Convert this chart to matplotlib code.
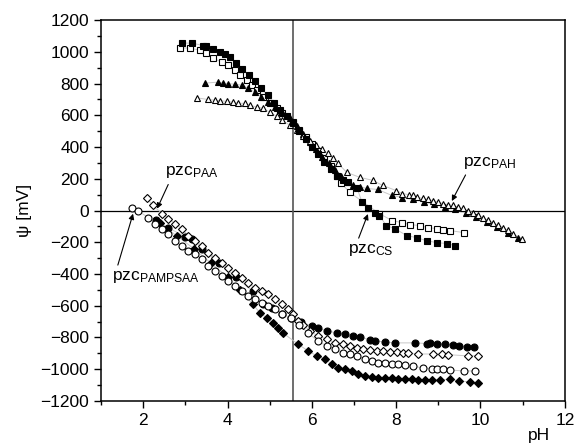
import matplotlib
matplotlib.use("Agg")
import matplotlib.pyplot as plt
from matplotlib.ticker import MultipleLocator

plt.rcParams['font.family'] = ['Liberation Sans', 'DejaVu Sans']
plt.rcParams['mathtext.fontset'] = 'custom'
plt.rcParams['mathtext.rm'] = 'Liberation Sans'
plt.rcParams['mathtext.it'] = 'Liberation Sans'

# zeta potential (mV) vs pH, one pair of arrays per sample
sq_f_ph = [2.92, 3.16, 3.42, 3.5, 3.65, 3.82, 3.95, 4.06, 4.2, 4.35, 4.5, 4.65, 4.8, 4.95, 5.1,
           5.25, 5.4, 5.55, 5.7, 5.85, 6.0, 6.15, 6.3, 6.45, 6.6, 6.75, 6.85, 7.07, 7.19, 7.33,
           7.5, 7.6, 7.77, 7.97, 8.25, 8.49, 8.72, 8.96, 9.2, 9.39]
sq_f_mv = [1055, 1055, 1040, 1036, 1015, 1000, 985, 965, 930, 895, 855, 815, 770, 725, 680,
           635, 595, 550, 500, 450, 400, 355, 305, 260, 215, 190, 177, 145, 51, 13,
           -13, -32, -95, -114, -158, -171, -190, -202, -208, -221]

sq_o_ph = [2.87, 3.1, 3.35, 3.5, 3.65, 3.87, 4.0, 4.17, 4.3, 4.46, 4.58, 4.7, 4.84, 5.0, 5.17,
           5.3, 5.55, 5.7, 5.85, 6.0, 6.15, 6.3, 6.45, 6.6, 6.7, 6.9, 7.6, 7.9, 8.13, 8.32,
           8.56, 8.75, 8.96, 9.1, 9.27, 9.6]
sq_o_mv = [1024, 1024, 1010, 990, 960, 935, 916, 885, 853, 822, 790, 758, 714, 676, 645,
           613, 556, 510, 465, 420, 375, 330, 280, 220, 171, 114, -19, -63, -76, -88,
           -95, -107, -114, -120, -126, -139]

tr_f_ph = [3.46, 3.77, 3.9, 4.02, 4.17, 4.34, 4.48, 4.65, 4.8, 4.96, 5.12, 5.29, 5.48, 5.65,
           5.8, 5.95, 6.1, 6.25, 6.4, 6.55, 6.7, 6.85, 6.97, 7.15, 7.3, 7.56, 7.9, 8.15, 8.4,
           8.65, 8.9, 9.15, 9.4, 9.65, 9.9, 10.15, 10.4, 10.65, 10.9]
tr_f_mv = [803, 809, 803, 800, 796, 790, 771, 746, 714, 683, 651, 620, 581, 530,
           480, 430, 390, 340, 300, 255, 215, 180, 158, 150, 139, 133, 95, 82, 70,
           55, 40, 25, 10, -15, -40, -75, -105, -140, -170]

tr_o_ph = [3.27, 3.54, 3.7, 3.83, 3.98, 4.13, 4.25, 4.41, 4.53, 4.7, 4.84, 5.0, 5.17, 5.3,
           5.48, 5.64, 5.8, 5.95, 6.1, 6.25, 6.38, 6.5, 6.62, 6.83, 7.14, 7.45, 7.68, 8.0,
           8.15, 8.3, 8.4, 8.5, 8.63, 8.75, 8.87, 9.0, 9.1, 9.22, 9.34, 9.46, 9.58, 9.7,
           9.82, 9.94, 10.05, 10.17, 10.29, 10.41, 10.53, 10.65, 10.76, 10.98]
tr_o_mv = [710, 700, 695, 692, 688, 683, 676, 676, 664, 651, 645, 620, 594, 569,
           537, 506, 470, 440, 411, 385, 360, 330, 297, 240, 209, 190, 158, 126,
           107, 100, 95, 85, 76, 70, 63, 55, 44, 38, 32, 22, 13, 0,
           -13, -28, -44, -60, -76, -92, -107, -125, -145, -177]

ci_f_ph = [2.3, 2.6, 3.0, 3.16, 3.4, 3.8, 4.2, 4.6, 4.84, 5.05, 5.29, 5.5, 5.75, 6.0, 6.14,
           6.35, 6.59, 6.78, 6.97, 7.14, 7.38, 7.5, 7.73, 7.97, 8.44, 8.72, 8.8, 8.96, 9.15,
           9.34, 9.5, 9.67, 9.85]
ci_f_mv = [-60, -110, -165, -177, -240, -330, -420, -510, -590, -613, -651, -680, -705, -727, -740,
           -758, -771, -777, -790, -796, -815, -822, -828, -834, -834, -838, -834, -838, -840,
           -847, -853, -859, -862]

di_f_ph = [2.4, 2.8, 3.2, 3.6, 4.0, 4.3, 4.6, 4.77, 4.93, 5.08, 5.2, 5.31, 5.67, 5.91, 6.12,
           6.31, 6.47, 6.62, 6.78, 6.95, 7.09, 7.26, 7.42, 7.56, 7.73, 7.9, 8.04, 8.2, 8.37,
           8.51, 8.68, 8.85, 9.05, 9.27, 9.5, 9.74, 9.93]
di_f_mv = [-80, -160, -240, -330, -420, -500, -590, -645, -676, -708, -740, -771, -841, -885, -916,
           -935, -967, -992, -999, -1011, -1030, -1043, -1049, -1055, -1055, -1055, -1062, -1062, -1062,
           -1068, -1068, -1068, -1068, -1062, -1074, -1080, -1087]

di_o_ph = [2.09, 2.23, 2.45, 2.6, 2.75, 2.92, 3.06, 3.23, 3.39, 3.54, 3.7, 3.87, 4.0, 4.17,
           4.34, 4.48, 4.65, 4.81, 4.96, 5.12, 5.29, 5.43, 5.55, 5.67, 5.8, 5.95, 6.14, 6.35,
           6.55, 6.73, 6.9, 7.07, 7.21, 7.38, 7.54, 7.68, 7.85, 8.01, 8.16, 8.28, 8.51, 8.87,
           9.08, 9.22, 9.7, 9.93]
di_o_mv = [76, 32, -19, -51, -82, -114, -158, -190, -221, -265, -297, -329, -360, -392,
           -423, -455, -487, -506, -525, -556, -588, -619, -651, -695, -720, -758, -790, -809,
           -834, -840, -853, -866, -872, -878, -885, -885, -891, -894, -897, -900, -904, -904,
           -906, -908, -916, -916]

ci_o_ph = [1.73, 1.88, 2.11, 2.28, 2.45, 2.59, 2.75, 2.92, 3.06, 3.23, 3.39, 3.54, 3.7, 3.87,
           4.0, 4.17, 4.34, 4.48, 4.65, 4.81, 4.96, 5.12, 5.3, 5.5, 5.7, 5.91, 6.14, 6.35,
           6.55, 6.73, 6.9, 7.07, 7.26, 7.42, 7.56, 7.73, 7.9, 8.04, 8.2, 8.4, 8.63, 8.84,
           8.98, 9.1, 9.27, 9.62, 9.86]
ci_o_mv = [13, 0, -44, -82, -114, -145, -190, -221, -253, -272, -303, -348, -379, -411,
           -442, -474, -506, -537, -556, -581, -600, -620, -650, -680, -720, -771, -822, -853,
           -872, -897, -904, -916, -935, -948, -960, -962, -967, -970, -973, -980, -992, -996,
           -999, -1001, -1005, -1011, -1011]

vline_ph = 5.55

# (x, y, marker, filled) in drawing order
series = [
    (sq_o_ph, sq_o_mv, 's', False),
    (tr_f_ph, tr_f_mv, '^', True),
    (tr_o_ph, tr_o_mv, '^', False),
    (sq_f_ph, sq_f_mv, 's', True),
    (ci_f_ph, ci_f_mv, 'o', True),
    (di_f_ph, di_f_mv, 'D', True),
    (di_o_ph, di_o_mv, 'D', False),
    (ci_o_ph, ci_o_mv, 'o', False),
]

fig = plt.figure(figsize=(5.74, 4.47), dpi=100)
ax = fig.add_axes([0.176, 0.103, 0.808, 0.852])

ax.axhline(0, color='black', lw=0.9, zorder=1)
ax.axvline(vline_ph, color='#555555', lw=1.2, zorder=1)

for x, y, m, filled in series:
    ms = 5.0 if m != 'D' else 4.5
    ax.plot(x, y, color='#c8c8c8', lw=0.7, zorder=2)
    ax.plot(x, y, ls='none', marker=m, ms=ms, mec='black', mew=0.8,
            mfc='black' if filled else 'white', zorder=3)

ax.set_xlim(1, 12)
ax.set_ylim(-1200, 1200)
ax.xaxis.set_major_locator(MultipleLocator(2))
ax.xaxis.set_minor_locator(MultipleLocator(1))
ax.yaxis.set_major_locator(MultipleLocator(200))
ax.yaxis.set_minor_locator(MultipleLocator(100))
ax.tick_params(which='both', direction='out', top=False, right=False, labelsize=12.5)
ax.tick_params(which='major', length=5, width=1)
ax.tick_params(which='minor', length=3, width=1)
for sp in ax.spines.values():
    sp.set_linewidth(1.1)

ax.set_ylabel('ψ [mV]', fontsize=12.5, labelpad=6)
ax.set_xlabel('pH', fontsize=12.5)
ax.xaxis.set_label_coords(0.945, -0.07)

arrow = dict(arrowstyle='-|>', color='black', lw=0.8, mutation_scale=8, shrinkA=1, shrinkB=0)
ax.annotate(r'pzc$_{\mathrm{PAH}}$', xy=(9.32, 60), xytext=(9.58, 300), fontsize=12.5,
            ha='left', va='center', arrowprops=dict(arrow, relpos=(0.1, 0.05)))
ax.annotate(r'pzc$_{\mathrm{CS}}$', xy=(7.33, -22), xytext=(6.85, -250), fontsize=12.5,
            ha='left', va='center', arrowprops=dict(arrow, relpos=(0.2, 0.95)))
ax.annotate(r'pzc$_{\mathrm{PAA}}$', xy=(2.33, 12), xytext=(2.52, 240), fontsize=12.5,
            ha='left', va='center', arrowprops=dict(arrow, relpos=(0.1, 0.05)))
ax.annotate(r'pzc$_{\mathrm{PAMPSAA}}$', xy=(1.76, -20), xytext=(1.26, -420), fontsize=12.5,
            ha='left', va='center', arrowprops=dict(arrow, relpos=(0.05, 0.95)))

fig.savefig('out.png', dpi=100)
